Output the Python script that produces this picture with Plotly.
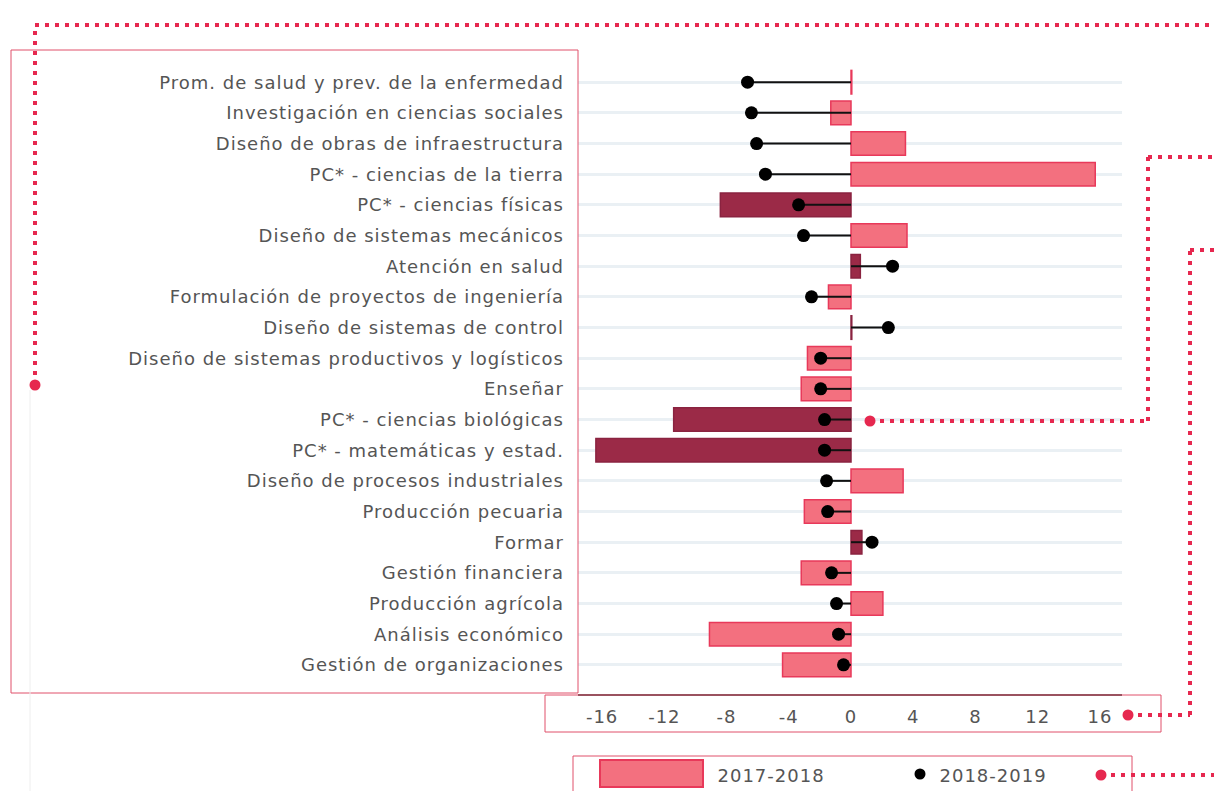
import plotly.graph_objects as go

categories = [
    "Prom. de salud y prev. de la enfermedad",
    "Investigación en ciencias sociales",
    "Diseño de obras de infraestructura",
    "PC* - ciencias de la tierra",
    "PC* - ciencias físicas",
    "Diseño de sistemas mecánicos",
    "Atención en salud",
    "Formulación de proyectos de ingeniería",
    "Diseño de sistemas de control",
    "Diseño de sistemas productivos y logísticos",
    "Enseñar",
    "PC* - ciencias biológicas",
    "PC* - matemáticas y estad.",
    "Diseño de procesos industriales",
    "Producción pecuaria",
    "Formar",
    "Gestión financiera",
    "Producción agrícola",
    "Análisis económico",
    "Gestión de organizaciones",
]
values_2017_2018 = [0.05, -1.3, 3.5, 15.7, -8.4, 3.6, 0.6, -1.45, 0.05, -2.8,
                    -3.2, -11.4, -16.4, 3.35, -3.0, 0.7, -3.2, 2.05, -9.1, -4.4]
values_2018_2019 = [-6.65, -6.4, -6.07, -5.5, -3.37, -3.05, 2.67, -2.54, 2.4, -1.95,
                    -1.95, -1.7, -1.7, -1.57, -1.5, 1.35, -1.25, -0.93, -0.8, -0.48]
x_ticks = [-16, -12, -8, -4, 0, 4, 8, 12, 16]

PINK = "#F3707F"
PINK_LINE = "#E8395A"
DARK = "#9B2A47"
DARK_LINE = "#8A2340"
dark_rows = {"PC* - ciencias físicas", "Atención en salud", "Diseño de sistemas de control",
             "PC* - ciencias biológicas", "PC* - matemáticas y estad.", "Formar"}
fill_colors = [DARK if c in dark_rows else PINK for c in categories]
line_colors = [DARK_LINE if c in dark_rows else PINK_LINE for c in categories]

W, H = 1214, 791
L, R, T, B = 578, 1122, 50, 694

fig = go.Figure()
fig.add_trace(go.Bar(
    y=categories, x=values_2017_2018, orientation="h", name="2017-2018",
    marker=dict(color=fill_colors, line=dict(color=line_colors, width=1.5)),
    width=0.77, showlegend=False,
))
# lollipop stems
sx, sy = [], []
for c, v in zip(categories, values_2018_2019):
    sx += [0, v, None]
    sy += [c, c, None]
fig.add_trace(go.Scatter(x=sx, y=sy, mode="lines", line=dict(color="#111111", width=2),
                         showlegend=False, hoverinfo="skip"))
fig.add_trace(go.Scatter(x=values_2018_2019, y=categories, mode="markers", name="2018-2019",
                         marker=dict(color="#000000", size=13), showlegend=False))

def px(x):
    return (x - L) / (R - L)

def py(y):
    return (B - y) / (B - T)

shapes = []
ann = []
BOX = "#E0506B"
DOT = "#E6284F"

def rect(x0, y0, x1, y1, color=BOX, width=1, fill=None):
    shapes.append(dict(type="rect", xref="paper", yref="paper", x0=px(x0), x1=px(x1),
                       y0=py(y0), y1=py(y1), line=dict(color=color, width=width),
                       fillcolor=fill if fill else "rgba(0,0,0,0)", layer="above"))

def line(x0, y0, x1, y1, color=DOT, width=4, dash="4px,6px"):
    shapes.append(dict(type="line", xref="paper", yref="paper", x0=px(x0), x1=px(x1),
                       y0=py(y0), y1=py(y1), line=dict(color=color, width=width, dash=dash),
                       layer="above"))

def dot(x, y, r=5.5, color=DOT):
    shapes.append(dict(type="circle", xref="paper", yref="paper", x0=px(x - r), x1=px(x + r),
                       y0=py(y - r), y1=py(y + r), line=dict(color=color, width=0),
                       fillcolor=color, layer="above"))

# annotation boxes
rect(11, 50, 578, 693)
rect(545, 695, 1161, 732)
rect(573, 756, 1132, 800)
line(30, 390, 30, 791, color="#EEEEEE", width=1, dash="solid")

# dotted leader lines
dot(35, 385)
line(35, 385, 35, 25)
line(35, 25, 1214, 25)
dot(870, 421)
line(870, 421, 1148, 421)
line(1148, 421, 1148, 157)
line(1148, 157, 1214, 157)
dot(1128, 715)
line(1128, 715, 1190, 715)
line(1190, 715, 1190, 250)
line(1190, 250, 1214, 250)
dot(1101, 775)
line(1101, 775, 1214, 775)

# custom legend
rect(600, 760, 703, 787, color=PINK_LINE, width=2, fill=PINK)
shapes.append(dict(type="circle", xref="paper", yref="paper", x0=px(914.5), x1=px(925.5),
                   y0=py(768.5), y1=py(779.5), fillcolor="#000000", line=dict(width=0),
                   layer="above"))
ann.append(dict(xref="paper", yref="paper", x=px(720), y=py(775), text="2017-2018",
                showarrow=False, xanchor="left", yanchor="middle",
                font=dict(family="DejaVu Sans", size=18, color="#555555")))
ann.append(dict(xref="paper", yref="paper", x=px(942), y=py(775), text="2018-2019",
                showarrow=False, xanchor="left", yanchor="middle",
                font=dict(family="DejaVu Sans", size=18, color="#555555")))

fig.update_layout(
    width=W, height=H,
    margin=dict(l=L, r=W - R, t=T, b=H - B, pad=0),
    plot_bgcolor="white", paper_bgcolor="white",
    font=dict(family="DejaVu Sans", size=18, color="#555555"),
    bargap=0.23,
    shapes=shapes, annotations=ann,
    xaxis=dict(range=[-17.55, 17.42], tickvals=x_ticks, ticktext=[str(t) for t in x_ticks],
               showgrid=False, zeroline=False, showline=True, linecolor="#555555",
               linewidth=1.5, ticks="", ticklabelstandoff=6,
               tickfont=dict(size=18, color="#555555")),
    yaxis=dict(type="category", categoryorder="array", categoryarray=categories,
               range=[19.95, -1.05], showgrid=True, gridcolor="#EAF0F4", gridwidth=3,
               zeroline=False, showline=False, ticks="", ticklabelstandoff=13,
               tickfont=dict(size=18, color="#555555")),
)

post = (
    "document.body.style.margin='0px';"
    "document.body.style.overflow='hidden';"
    "document.querySelectorAll('.main-svg text').forEach(function(t){"
    "t.style.letterSpacing='1px';});"
)
fig.write_html("out.html", post_script=post, config={"displayModeBar": False})
